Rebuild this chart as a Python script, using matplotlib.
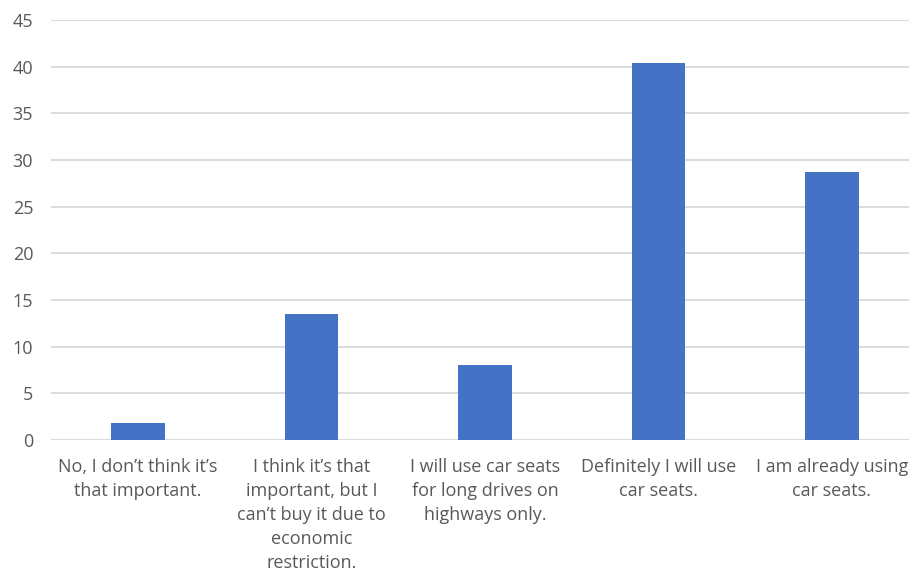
import matplotlib
matplotlib.use("Agg")
import matplotlib.pyplot as plt

categories = [
    "No, I don\u2019t think it\u2019s\nthat important.",
    "I think it\u2019s that\nimportant, but I\ncan\u2019t buy it due to\neconomic\nrestriction.",
    "I will use car seats\nfor long drives on\nhighways only.",
    "Definitely I will use\ncar seats.",
    "I am already using\ncar seats.",
]
values = [1.8, 13.5, 8.0, 40.4, 28.7]
yticks = [0, 5, 10, 15, 20, 25, 30, 35, 40, 45]

plt.rcParams['font.family'] = ['Open Sans', 'DejaVu Sans']

fig = plt.figure(figsize=(9.09, 5.78), dpi=100)
ax = fig.add_axes([51.25/909, 1 - 440/578, 867.5/909, 420/578])

x = list(range(len(categories)))
ax.bar(x, values, width=0.311, color="#4472C4", zorder=3)
ax.set_xlim(-0.5, len(categories) - 0.5)
ax.set_ylim(0, 45)
ax.set_yticks(yticks)
ax.yaxis.grid(True, color="#D9D9D9", linewidth=1.3, zorder=0)
ax.set_axisbelow(True)
for s in ax.spines.values():
    s.set_visible(False)
ax.tick_params(axis="both", length=0, colors="#595959", labelsize=13)
ax.tick_params(axis="y", pad=13)
ax.tick_params(axis="x", pad=13)
ax.set_xticks(x)
ax.set_xticklabels(categories, linespacing=1.42)

fig.savefig("out.png", dpi=100)
